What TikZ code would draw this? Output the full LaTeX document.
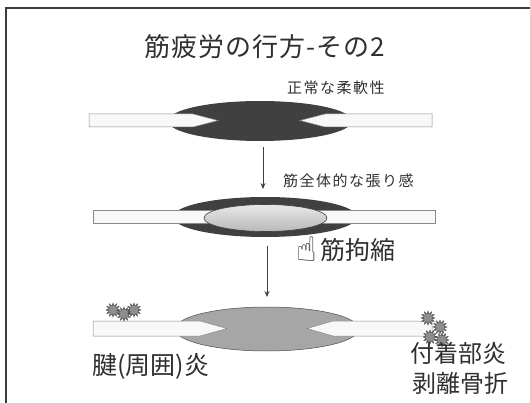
\documentclass[tikz,border=0pt]{standalone}
\usepackage{fontspec}
\setmainfont{Noto Sans CJK JP}
\newfontfamily\spacedfont[LetterSpace=10]{Noto Sans CJK JP}
\newfontfamily\titlefont[LetterSpace=4]{Noto Sans CJK JP}
\newfontfamily\symfont{DejaVu Sans}
\usetikzlibrary{shapes.geometric,arrows.meta}

\definecolor{muscledark}{HTML}{404040}
\definecolor{musclegray}{HTML}{A6A6A6}
\definecolor{tendonfill}{HTML}{F8F8F8}
\definecolor{tendonline}{HTML}{8A8A8A}
\definecolor{framecol}{HTML}{3C3C3C}
\definecolor{textcol}{HTML}{303030}
\definecolor{burstfill}{HTML}{8E8E8E}

\tikzset{
  muscle/.style={ellipse, inner sep=0pt, minimum width=184pt, minimum height=40pt},
  tendon/.style={fill=tendonfill, draw=tendonline, line width=0.5pt, line join=miter},
  burst/.style={star, star points=12, star point ratio=1.8, inner sep=0pt,
    minimum size=14pt, fill=burstfill, draw=gray!25!black, line width=0.35pt},
  burstcore/.style={fill=burstfill},
  flow/.style={-{Stealth[length=6pt,width=5pt]}, line width=0.9pt, draw=muscledark},
  label/.style={anchor=west, inner sep=0pt, text=textcol},
}

\begin{document}
\begin{tikzpicture}[x=1pt, y=-1pt]
\useasboundingbox (0,0) rectangle (530,403);
\fill[white] (0,0) rectangle (530,403);

% slide frame
\draw[framecol, line width=2pt] (6,403) -- (6,8) -- (530,8);

% title
\node[text=textcol, inner sep=0pt, font=\titlefont\fontsize{26}{30}\selectfont] (title) at (265,47) {筋疲労の行方-その2};

% --- stage 1: normal muscle ---
\node[label, font=\spacedfont\fontsize{15}{17}\selectfont] (lab1) at (287,88) {正常な柔軟性};
\node[muscle, fill=muscledark] (m1) at (260,121) {};
\draw[tendon] (89,114) -- (193,114) -- (218,120.5) -- (193,127) -- (89,127) -- cycle;
\draw[tendon] (432,114) -- (325,114) -- (300,120.5) -- (325,127) -- (432,127) -- cycle;

\coordinate (a1s) at (263,147);
\coordinate (a1e) at (263,189);
\draw[flow] (a1s) -- (a1e);

% --- stage 2: overall tension ---
\node[label, font=\spacedfont\fontsize{15}{17}\selectfont] (lab2) at (283,181) {筋全体的な張り感};
\node[muscle, fill=muscledark] (m2) at (265,217) {};
\draw[tendon] (93,210) -- (215,210) -- (215,223) -- (93,223) -- cycle;
\draw[tendon] (435,210) -- (316,210) -- (316,223) -- (435,223) -- cycle;
\node[ellipse, inner sep=0pt, minimum width=123pt, minimum height=27pt,
      top color=gray!18, bottom color=gray!55, draw=muscledark, line width=0.6pt] (c2) at (265.5,218) {};

\node[inner sep=0pt, text=textcol, font=\symfont\fontsize{34}{36}\selectfont] (hand) at (307,249) {☝};
\node[label, font=\fontsize{25}{28}\selectfont] (lab3) at (320,250) {筋拘縮};

\coordinate (a2s) at (267,246);
\coordinate (a2e) at (267,297);
\draw[flow] (a2s) -- (a2e);

% --- stage 3: outcome ---
\node[muscle, minimum height=44pt, fill=musclegray, draw=gray!60!black, line width=0.5pt] (m3) at (267,329) {};
\draw[tendon] (93,321) -- (200,321) -- (227,328.5) -- (200,336) -- (93,336) -- cycle;
\draw[tendon] (432,321) -- (333,321) -- (307,328.5) -- (333,336) -- (432,336) -- cycle;

% inflammation spots: spiky outline with a round core
\foreach \n/\p in {b1/{(113,310)}, b2/{(124,314)}, b3/{(134,310)},
                   b4/{(428,318)}, b5/{(440,327)}, b6/{(430,337)}, b7/{(442,340)}} {
  \node[burst] (\n) at \p {};
  \fill[burstcore] (\n.center) circle (4.3pt);
}

\node[label, font=\fontsize{25}{28}\selectfont] (lab4) at (92,366) {腱(周囲)炎};
\node[label, font=\fontsize{24}{27}\selectfont] (lab5) at (410,353) {付着部炎};
\node[label, font=\fontsize{24}{27}\selectfont] (lab6) at (412,383) {剥離骨折};
\end{tikzpicture}
\end{document}
